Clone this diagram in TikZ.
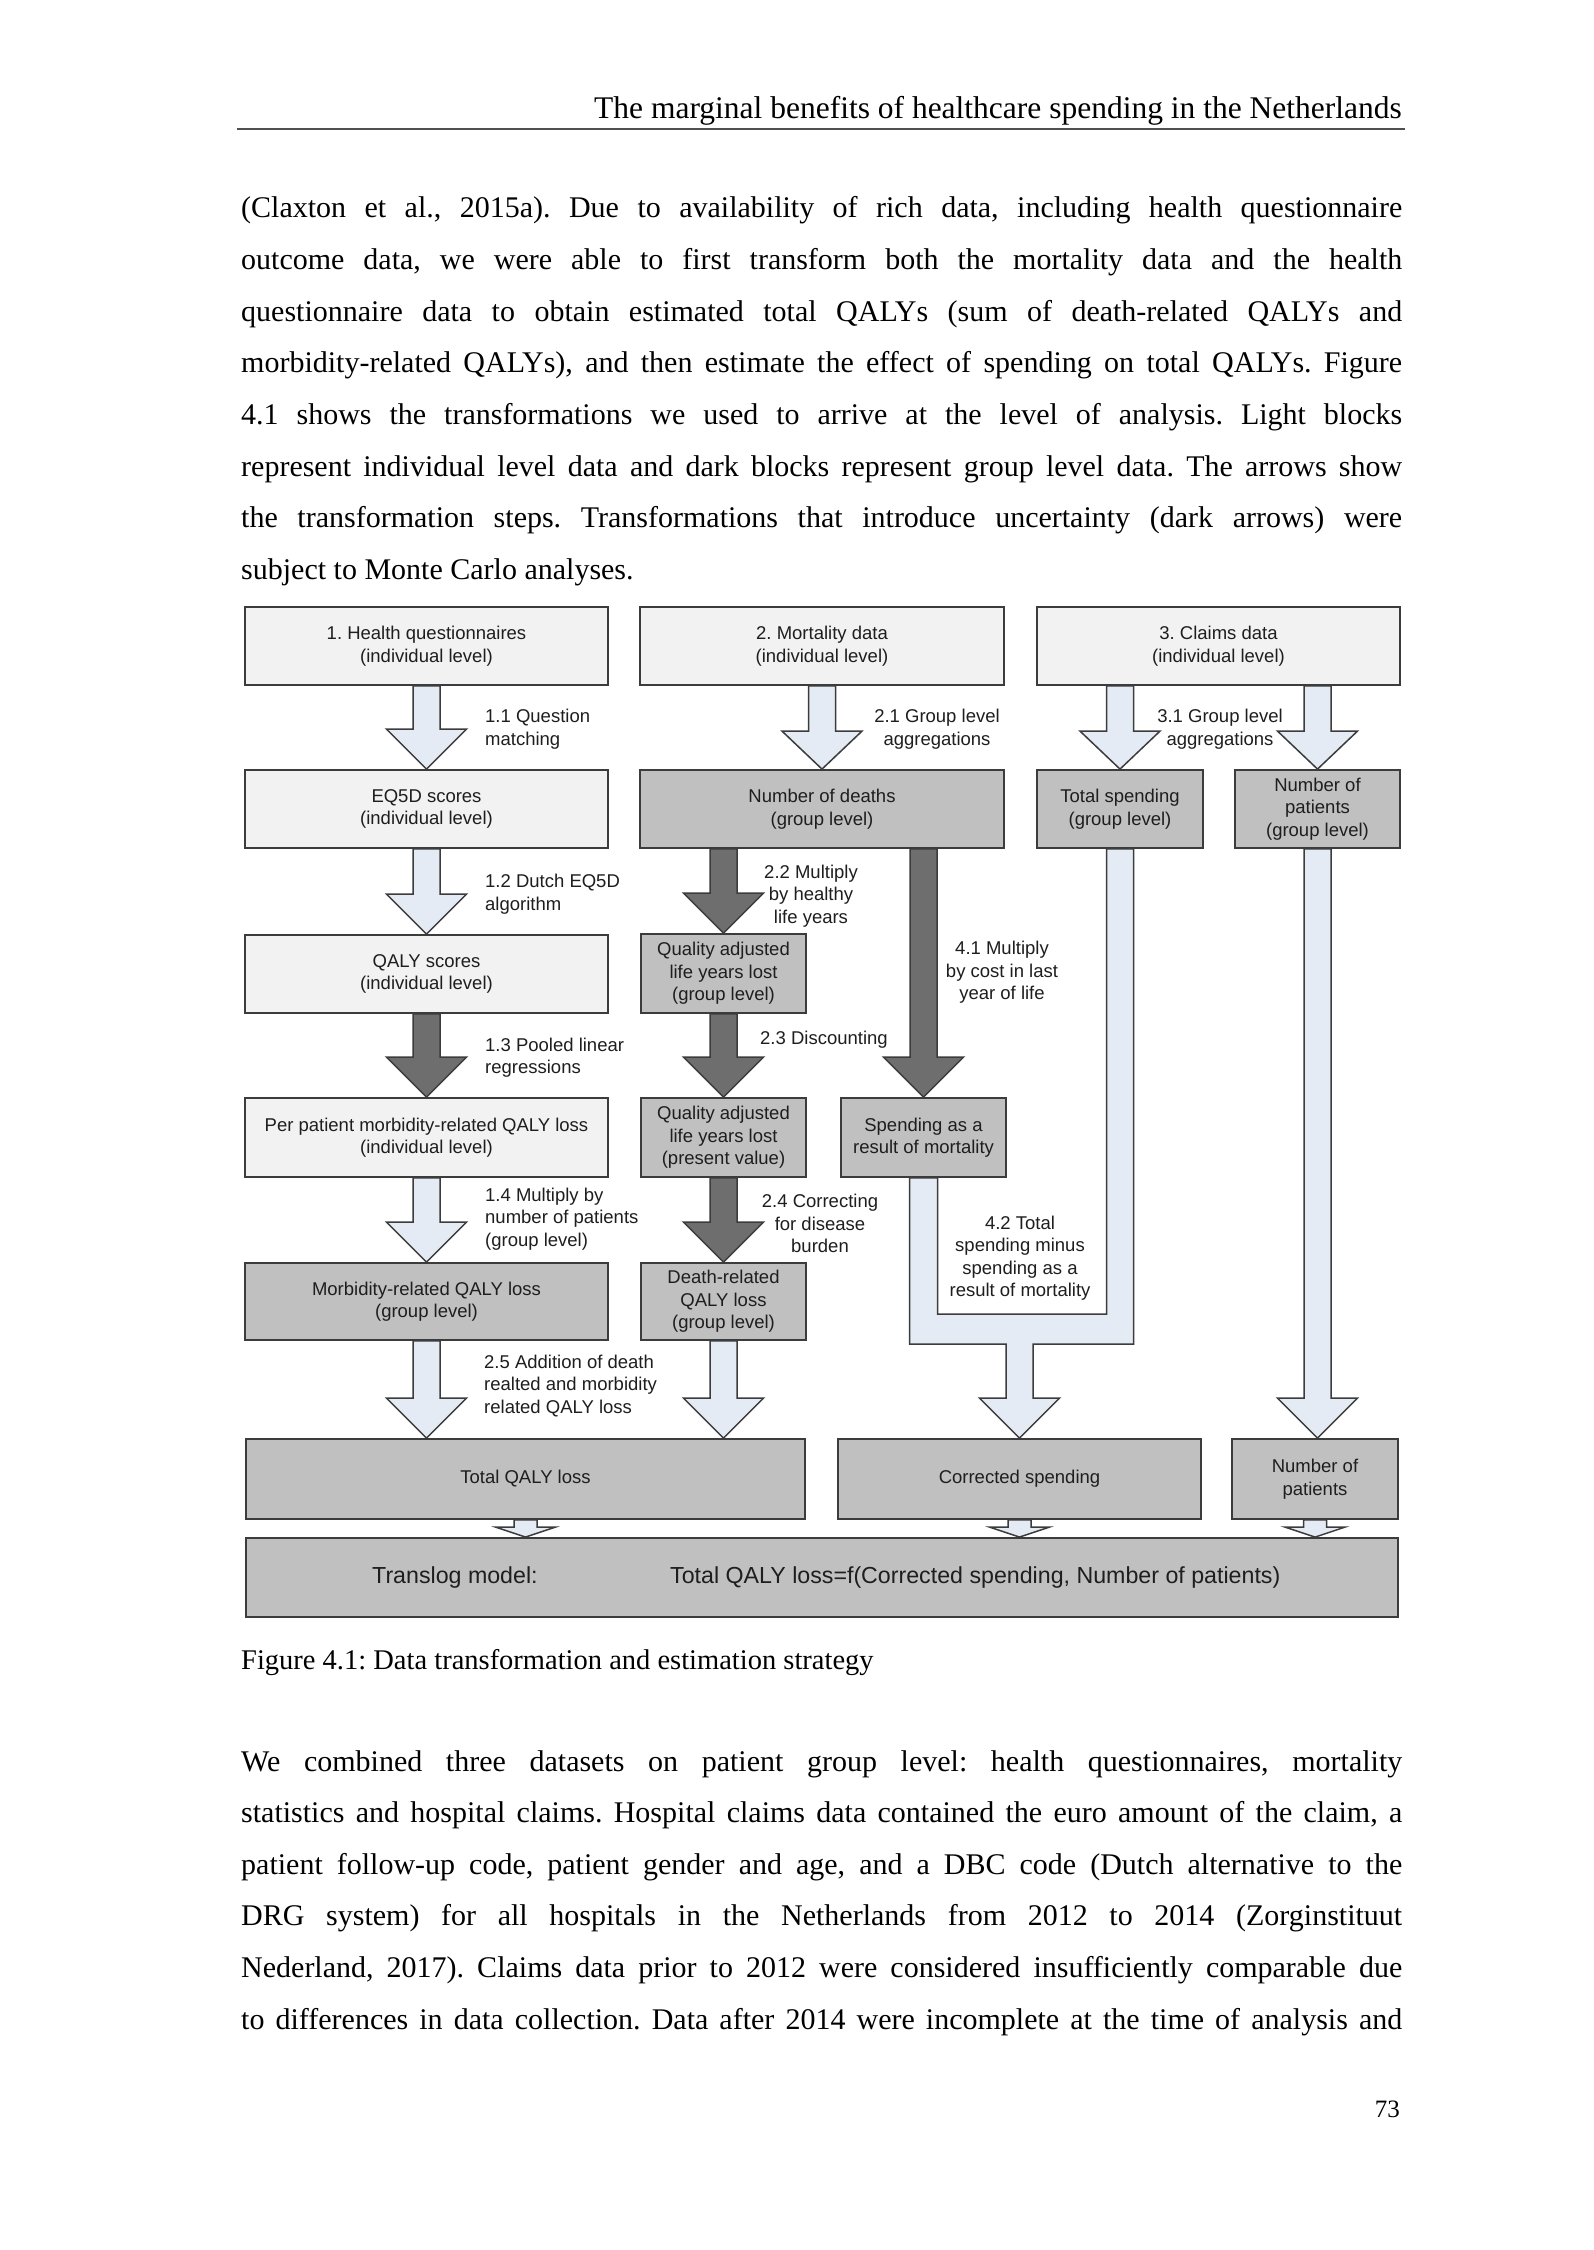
\documentclass[tikz,border=0pt]{standalone}
\usepackage{fontspec}
\setmainfont{Liberation Serif}
\newfontfamily\arfam{Liberation Sans}
\usetikzlibrary{calc}
\frenchspacing
\definecolor{lbx}{HTML}{F2F2F2}
\definecolor{dbx}{HTML}{C0C0C0}
\definecolor{lar}{HTML}{E5EBF5}
\definecolor{dar}{HTML}{6E6E6E}
\definecolor{brd}{HTML}{3C3C3C}
\definecolor{txt}{HTML}{1E1E1E}
\definecolor{rulec}{HTML}{505050}
\newcommand\bodyf{\fontsize{30}{36}\selectfont}
\newcommand\headf{\fontsize{31.5}{36}\selectfont}
\newcommand\capf{\fontsize{28.5}{34}\selectfont}
\newcommand\pnumf{\fontsize{25}{30}\selectfont}
\newcommand\labf{\arfam\fontsize{18.5}{22.5}\selectfont}
\newcommand\tlf{\arfam\fontsize{23.2}{28}\selectfont}
\newcommand\jl[1]{\makebox[1161pt][s]{#1}}
% block arrow: style, x-node, from, to, head length
\newcommand\barrow[5]{%
  \draw[#1] let \p3=(#2), \p1=(#3.south), \p2=(#4.north) in
    (\x3-13.5pt,\y1) -- (\x3-13.5pt,\y2+#5) -- (\x3-40pt,\y2+#5) -- (\x3,\y2)
    -- (\x3+40pt,\y2+#5) -- (\x3+13.5pt,\y2+#5) -- (\x3+13.5pt,\y1) -- cycle;}
% small arrow into the translog box
\newcommand\sarrow[2]{%
  \draw[larrow] let \p1=(#1.south), \p2=(#2.north) in
    (\x1-11.5pt,\y1) -- (\x1-11.5pt,\y2+10pt) -- (\x1-30pt,\y2+10pt) -- (\x1,\y2)
    -- (\x1+30pt,\y2+10pt) -- (\x1+11.5pt,\y2+10pt) -- (\x1+11.5pt,\y1) -- cycle;}
\tikzset{
  box/.style={draw=brd, line width=1.8pt, inner sep=2pt, align=center, font=\labf, text=txt},
  lb/.style={box, fill=lbx},
  db/.style={box, fill=dbx},
  lbl/.style={font=\labf, text=txt, inner sep=0pt},
  larrow/.style={draw=brd, line width=1.5pt, fill=lar, line join=miter},
  darrow/.style={draw=brd, line width=1.5pt, fill=dar, line join=miter},
  bodytxt/.style={font=\bodyf, inner sep=0pt, anchor=base west},
}
\begin{document}
\begin{tikzpicture}[x=1pt,y=-1pt]
\fill[white] (0,0) rectangle (1594,2250);
\useasboundingbox (0,0) rectangle (1594,2250);

% ---------- header ----------
\node[font=\headf, inner sep=0pt, anchor=base east] (head) at (1402,119) {The marginal benefits of healthcare spending in the Netherlands};
\draw[rulec, line width=2pt] (237,129) -- (1405,129);

% ---------- paragraph 1 ----------
\node[bodytxt] (p1) at (241,218) {\jl{(Claxton et al., 2015a). Due to availability of rich data, including health questionnaire}};
\node[bodytxt] (p2) at (241,269.6) {\jl{outcome data, we were able to first transform both the mortality data and the health}};
\node[bodytxt] (p3) at (241,321.2) {\jl{questionnaire data to obtain estimated total QALYs (sum of death-related QALYs and}};
\node[bodytxt] (p4) at (241,372.8) {\jl{morbidity-related QALYs), and then estimate the effect of spending on total QALYs. Figure}};
\node[bodytxt] (p5) at (241,424.4) {\jl{4.1 shows the transformations we used to arrive at the level of analysis. Light blocks}};
\node[bodytxt] (p6) at (241,476) {\jl{represent individual level data and dark blocks represent group level data. The arrows show}};
\node[bodytxt] (p7) at (241,527.6) {\jl{the transformation steps. Transformations that introduce uncertainty (dark arrows) were}};
\node[bodytxt] (p8) at (241,579.2) {subject to Monte Carlo analyses.};

% ---------- boxes ----------
\node[lb, minimum width=363pt, minimum height=78pt] (b1) at (426.5,646) {1. Health questionnaires\\(individual level)};
\node[lb, minimum width=364pt, minimum height=78pt] (b2) at (822,646) {2. Mortality data\\(individual level)};
\node[lb, minimum width=363pt, minimum height=78pt] (b3) at (1218.5,646) {3. Claims data\\(individual level)};

\node[lb, minimum width=363pt, minimum height=78pt] (eq) at (426.5,809) {EQ5D scores\\(individual level)};
\node[db, minimum width=364pt, minimum height=78pt] (nd) at (822,809) {Number of deaths\\(group level)};
\node[db, minimum width=166pt, minimum height=78pt] (ts) at (1120,809) {Total spending\\(group level)};
\node[db, minimum width=165pt, minimum height=78pt] (np) at (1317.5,809) {Number of\\patients\\(group level)};

\node[lb, minimum width=363pt, minimum height=78pt] (qs) at (426.5,974) {QALY scores\\(individual level)};
\node[db, minimum width=165pt, minimum height=79pt] (ql) at (723.5,973.5) {Quality adjusted\\life years lost\\(group level)};

\node[lb, minimum width=363pt, minimum height=79pt] (pp) at (426.5,1137.5) {Per patient morbidity-related QALY loss\\(individual level)};
\node[db, minimum width=165pt, minimum height=79pt] (qp) at (723.5,1137.5) {Quality adjusted\\life years lost\\(present value)};
\node[db, minimum width=165pt, minimum height=79pt] (sm) at (923.5,1137.5) {Spending as a\\result of mortality};

\node[db, minimum width=363pt, minimum height=77pt] (mr) at (426.5,1301.5) {Morbidity-related QALY loss\\(group level)};
\node[db, minimum width=165pt, minimum height=77pt] (dr) at (723.5,1301.5) {Death-related\\QALY loss\\(group level)};

\node[db, minimum width=559pt, minimum height=80pt] (tq) at (525.5,1479) {Total QALY loss};
\node[db, minimum width=363pt, minimum height=80pt] (cs) at (1019.5,1479) {Corrected spending};
\node[db, minimum width=166pt, minimum height=80pt] (np2) at (1315,1479) {Number of\\patients};

\node[db, minimum width=1152pt, minimum height=79pt] (tl) at (822,1577.5) {};
\node[font=\tlf, text=txt, inner sep=0pt, anchor=west] (tl1) at (372,1577) {Translog model:};
\node[font=\tlf, text=txt, inner sep=0pt, anchor=west] (tl2) at (670,1577) {Total QALY loss=f(Corrected spending, Number of patients)};

% ---------- block arrows ----------
\barrow{larrow}{b1}{b1}{eq}{40pt}
\barrow{larrow}{eq}{eq}{qs}{40pt}
\barrow{darrow}{qs}{qs}{pp}{40pt}
\barrow{larrow}{pp}{pp}{mr}{40pt}
\barrow{larrow}{mr}{mr}{tq}{40pt}
\barrow{larrow}{nd}{b2}{nd}{38pt}
\barrow{larrow}{ts}{b3}{ts}{38pt}
\barrow{larrow}{np}{b3}{np}{38pt}
\barrow{darrow}{ql}{nd}{ql}{40pt}
\barrow{darrow}{ql}{ql}{qp}{40pt}
\barrow{darrow}{qp}{qp}{dr}{40pt}
\barrow{larrow}{dr}{dr}{tq}{40pt}
\barrow{darrow}{sm}{nd}{sm}{40pt}
\barrow{larrow}{np}{np}{np2}{40pt}

% U-shaped connector: total spending minus spending as a result of mortality
\draw[larrow] let \p1=(sm.south), \p2=(ts.south), \p3=(cs.north) in
  (\x1-14pt,\y1) -- (\x1-14pt,\y3+94pt) -- (\x3-13.5pt,\y3+94pt) -- (\x3-13.5pt,\y3+40pt)
  -- (\x3-40pt,\y3+40pt) -- (\x3,\y3) -- (\x3+40pt,\y3+40pt) -- (\x3+13.5pt,\y3+40pt)
  -- (\x3+13.5pt,\y3+94pt) -- (\x2+13.5pt,\y3+94pt) -- (\x2+13.5pt,\y2) -- (\x2-13.5pt,\y2)
  -- (\x2-13.5pt,\y3+124pt) -- (\x1+14pt,\y3+124pt) -- (\x1+14pt,\y1) -- cycle;

\sarrow{tq}{tl}
\sarrow{cs}{tl}
\sarrow{np2}{tl}

% ---------- arrow labels ----------
\node[lbl, align=left, anchor=west] (l11) at (485,729) {1.1 Question\\matching};
\node[lbl, align=left, anchor=west] (l12) at (485,894) {1.2 Dutch EQ5D\\algorithm};
\node[lbl, align=left, anchor=west] (l13) at (485,1057.5) {1.3 Pooled linear\\regressions};
\node[lbl, align=left, anchor=west] (l14) at (485,1219) {1.4 Multiply by\\number of patients\\(group level)};
\node[lbl, align=left, anchor=west] (l25) at (484,1386) {2.5 Addition of death\\realted and morbidity\\related QALY loss};
\node[lbl, align=center] (l21) at (937,729) {2.1 Group level\\aggregations};
\node[lbl, align=center] (l31) at (1220,729) {3.1 Group level\\aggregations};
\node[lbl, align=center] (l22) at (811,896) {2.2 Multiply\\by healthy\\life years};
\node[lbl, align=center] (l41) at (1002,972.5) {4.1 Multiply\\by cost in last\\year of life};
\node[lbl, anchor=west] (l23) at (760,1040) {2.3 Discounting};
\node[lbl, align=center] (l24) at (820,1223.5) {2.4 Correcting\\for disease\\burden};
\node[lbl, align=center] (l42) at (1020,1258) {4.2 Total\\spending minus\\spending as a\\result of mortality};

% ---------- caption ----------
\node[font=\capf, inner sep=0pt, anchor=base west] (cap) at (241,1669) {Figure 4.1: Data transformation and estimation strategy};

% ---------- paragraph 2 ----------
\node[bodytxt] (q1) at (241,1771) {\jl{We combined three datasets on patient group level: health questionnaires, mortality}};
\node[bodytxt] (q2) at (241,1822.6) {\jl{statistics and hospital claims. Hospital claims data contained the euro amount of the claim, a}};
\node[bodytxt] (q3) at (241,1874.2) {\jl{patient follow-up code, patient gender and age, and a DBC code (Dutch alternative to the}};
\node[bodytxt] (q4) at (241,1925.8) {\jl{DRG system) for all hospitals in the Netherlands from 2012 to 2014 (Zorginstituut}};
\node[bodytxt] (q5) at (241,1977.4) {\jl{Nederland, 2017). Claims data prior to 2012 were considered insufficiently comparable due}};
\node[bodytxt] (q6) at (241,2029) {\jl{to differences in data collection. Data after 2014 were incomplete at the time of analysis and}};

% ---------- page number ----------
\node[font=\pnumf, inner sep=0pt, anchor=base east] (pn) at (1400,2117) {73};
\end{tikzpicture}
\end{document}
